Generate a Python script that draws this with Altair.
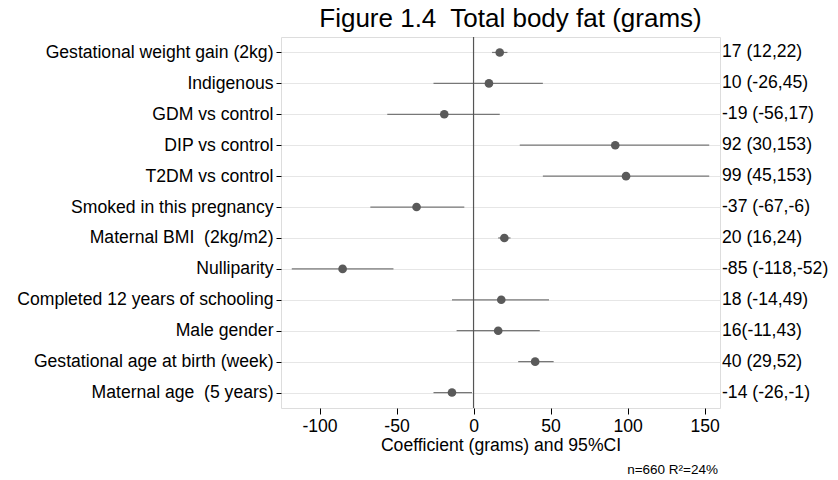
import altair as alt
import pandas as pd

NB = "\u00a0"
labels = ["Gestational weight gain (2kg)", "Indigenous", "GDM vs control", "DIP vs control",
          "T2DM vs control", "Smoked in this pregnancy", "Maternal BMI" + NB + " (2kg/m2)", "Nulliparity",
          "Completed 12 years of schooling", "Male gender", "Gestational age at birth (week)",
          "Maternal age" + NB + " (5 years)"]
est = [17, 10, -19, 92, 99, -37, 20, -85, 18, 16, 40, -14]
low = [12, -26, -56, 30, 45, -67, 16, -118, -14, -11, 29, -26]
high = [22, 45, 17, 153, 153, -6, 24, -52, 49, 43, 52, -1]
right_text = ["17 (12,22)", "10 (-26,45)", "-19 (-56,17)", "92 (30,153)", "99 (45,153)",
              "-37 (-67,-6)", "20 (16,24)", "-85 (-118,-52)", "18 (-14,49)", "16(-11,43)",
              "40 (29,52)", "-14 (-26,-1)"]
x_ticks = [-100, -50, 0, 50, 100, 150]

df = pd.DataFrame({"label": labels, "est": est, "low": low, "high": high, "txt": right_text})

W, H = 439, 371
FONT = "Liberation Sans"
FS = 17.6

yenc = alt.Y("label:N", sort=labels, scale=alt.Scale(type="point", padding=0.5),
             axis=alt.Axis(title=None, labelFontSize=FS, labelFont=FONT, labelColor="black",
                           tickSize=5, tickColor="black", labelPadding=3, domain=False,
                           grid=True, gridColor="#e6e6e6", gridWidth=1, labelLimit=300))
xscale = alt.Scale(domain=[-125, 160], nice=False, zero=False)
xaxis = alt.Axis(values=x_ticks, title="Coefficient (grams) and 95%CI", titleFont=FONT,
                 titleFontSize=FS, titleFontWeight="normal", titleColor="black", titlePadding=2,
                 labelFont=FONT, labelFontSize=FS, labelColor="black", tickSize=6,
                 labelExpr="replace(datum.label, '\u2212', '-')",
                 tickColor="black", labelPadding=3, domain=False, grid=False)

base = alt.Chart(df)

ci = base.mark_rule(color="#777777", strokeWidth=1.2).encode(
    x=alt.X("low:Q", scale=xscale, axis=xaxis), x2="high:Q", y=yenc)
zero = alt.Chart(pd.DataFrame({"z": [0]})).mark_rule(color="#555555", strokeWidth=1.2).encode(
    x=alt.X("z:Q", scale=xscale))
dots = base.mark_circle(color="#5a5a5a", size=75, opacity=1).encode(
    x=alt.X("est:Q", scale=xscale), y=alt.Y("label:N", sort=labels))
rtxt = base.mark_text(align="left", baseline="middle", dx=2, font=FONT, fontSize=FS,
                      color="black", clip=False).encode(
    x=alt.value(W), y=alt.Y("label:N", sort=labels), text="txt:N")
note = alt.Chart(pd.DataFrame({"t": ["n=660 R²=24%"]})).mark_text(
    align="right", baseline="bottom", font=FONT, fontSize=13.5, color="black").encode(
    x=alt.value(W - 2), y=alt.value(H + 69), text="t:N")

chart = alt.layer(ci, zero, dots, rtxt, note).properties(
    width=W, height=H,
    title=alt.TitleParams("Figure 1.4" + NB + " Total body fat (grams)", font=FONT, fontSize=26,
                          fontWeight="normal", color="black", anchor="middle", frame="group",
                          dx=10, offset=4),
    autosize=alt.AutoSizeParams(type="none"),
    padding={"left": 281, "top": 37, "right": 118, "bottom": 72},
).configure_view(stroke="black", strokeWidth=1.2).configure(background="white")

chart.save("out.html", embed_options={"renderer": "svg", "actions": False})
